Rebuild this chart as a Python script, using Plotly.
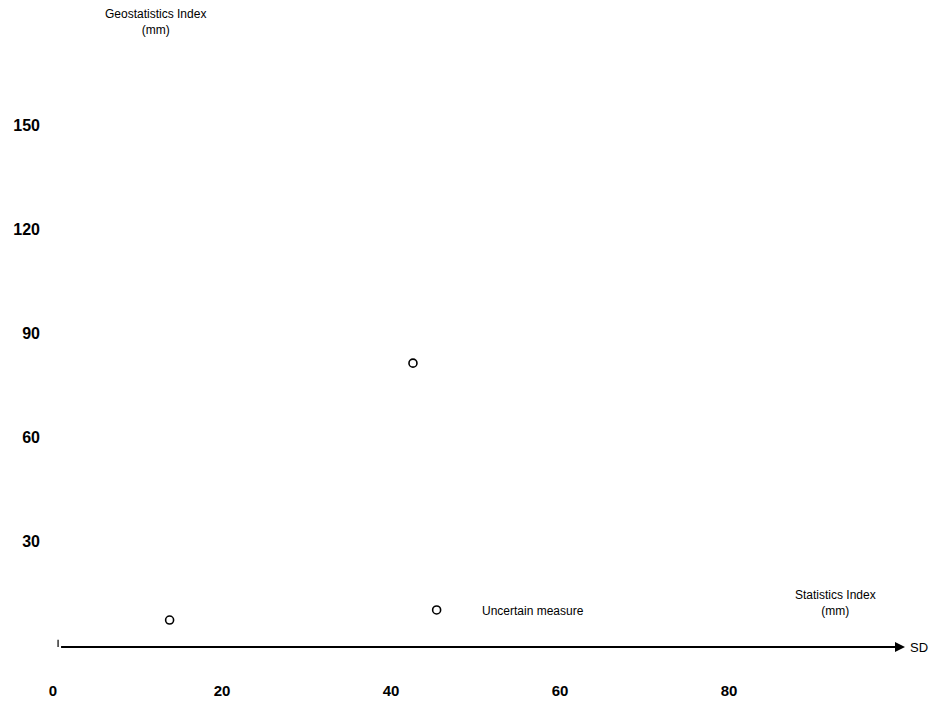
import plotly.graph_objects as go

# Data
x_vals = [13.8, 42.6, 45.4]
y_vals = [7.2, 81.3, 10.1]
x_ticks = [0, 20, 40, 60, 80]
y_ticks = [30, 60, 90, 120, 150]
y_title = "Geostatistics Index<br>(mm)"
x_title = "Statistics Index<br>(mm)"
note_text = "Uncertain measure"
arrow_label = "SD"

FONT = "Liberation Sans"
INK = "#000000"

PX_X = 8.45    # pixels per x unit
PX_Y = 3.467   # pixels per y unit
L, R, T, B = 53, 37, 20, 50
XMAX = (942 - L - R) / PX_X
YMIN = (645 - (702 - B)) / PX_Y   # puts y=0 at pixel row 645
YMAX = YMIN + (702 - T - B) / PX_Y

fig = go.Figure()
fig.add_trace(go.Scatter(
    x=x_vals, y=y_vals, mode="markers",
    marker=dict(symbol="circle-open", size=8, color=INK,
                line=dict(width=1.6, color=INK)),
    showlegend=False, hoverinfo="skip", cliponaxis=False,
))

fig.update_layout(
    width=942, height=702,
    margin=dict(l=L, r=R, t=T, b=B, autoexpand=False),
    paper_bgcolor="white", plot_bgcolor="white",
    font=dict(family=FONT, color=INK),
    xaxis=dict(range=[0, XMAX], showgrid=False, zeroline=False, showline=False,
               automargin=False,
               tickvals=x_ticks, ticktext=[str(v) for v in x_ticks], ticks="",
               ticklabelstandoff=28,
               tickfont=dict(family=FONT, size=15, color=INK, weight="bold")),
    yaxis=dict(range=[YMIN, YMAX], showgrid=False, zeroline=False, showline=False,
               automargin=False,
               tickvals=y_ticks, ticktext=[str(v) for v in y_ticks], ticks="",
               ticklabelstandoff=12,
               tickfont=dict(family=FONT, size=16, color=INK, weight="bold")),
)

# Horizontal arrow axis
fig.add_annotation(x=XMAX, y=-0.6, ax=0.6, ay=-0.6, xref="x", yref="y",
                   axref="x", ayref="y", showarrow=True, arrowhead=2,
                   arrowsize=1, arrowwidth=2, arrowcolor=INK, text=" ")
fig.add_shape(type="line", xref="x", yref="y", x0=0.6, x1=0.6, y0=-0.6, y1=1.5,
              line=dict(color=INK, width=1.2))
fig.add_annotation(x=XMAX, y=-0.6, xref="x", yref="y", text=arrow_label,
                   showarrow=False, xanchor="left", xshift=3,
                   font=dict(family=FONT, size=13, color=INK))

fig.add_annotation(x=(155 - L) / PX_X, y=(645 - 22) / PX_Y, xref="x", yref="y",
                   text=y_title, showarrow=False, xanchor="center", yanchor="middle",
                   font=dict(family=FONT, size=12, color=INK))

fig.add_annotation(x=(835 - L) / PX_X, y=(645 - 603) / PX_Y, xref="x", yref="y",
                   text=x_title, showarrow=False, xanchor="center", yanchor="middle",
                   font=dict(family=FONT, size=12, color=INK))

fig.add_annotation(x=(480 - L) / PX_X, y=(645 - 611) / PX_Y, xref="x", yref="y",
                   text=note_text, showarrow=False, xanchor="left", yanchor="middle",
                   font=dict(family=FONT, size=12, color=INK))

fig.write_html("out.html", config={"displayModeBar": False},
               post_script="document.body.style.margin='0';document.body.style.overflow='hidden';")
